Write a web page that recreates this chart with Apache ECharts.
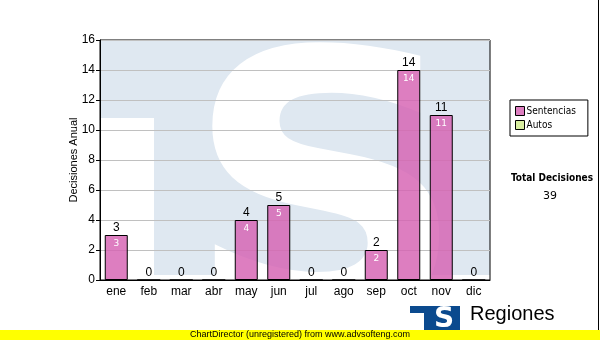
<!DOCTYPE html>
<html><head><meta charset="utf-8">
<script src="https://cdn.jsdelivr.net/npm/echarts@6/dist/echarts.min.js"></script>
<style>html,body{margin:0;padding:0;background:#fff}#c{width:600px;height:340px}</style>
</head><body><div id="c"></div>
<script>
const categories = ['ene','feb','mar','abr','may','jun','jul','ago','sep','oct','nov','dic'];
const sentencias = [3,0,0,0,4,5,0,0,2,14,11,0];
const autos = [];
const totalLabel = 'Total Decisiones';
const totalValue = '39';

const chart = echarts.init(document.getElementById('c'), null, {renderer:'canvas'});
const pink = 'rgba(214,98,178,0.82)';
chart.setOption({
  animation:false,
  textStyle:{fontFamily:'Liberation Sans, Arial, sans-serif'},
  graphic:[
    {type:'rect', z:-10, shape:{x:100,y:40,width:390,height:235}, style:{fill:'#dfe8f1'}},
    {type:'rect', z:-9, shape:{x:100,y:118,width:54,height:162}, style:{fill:'#ffffff'}},
    {type:'text', z:-8, x:326, y:221, scaleX:1.24, scaleY:1.165, style:{text:'S', fill:'#ffffff', font:'bold 318px "DejaVu Sans"', align:'center', verticalAlign:'middle'}},
    {type:'rect', shape:{x:0,y:330,width:600,height:10}, style:{fill:'#ffff00'}},
    {type:'text', x:300, y:330, style:{text:'ChartDirector (unregistered) from www.advsofteng.com', fill:'#000', font:'9px "Liberation Sans"', align:'center', verticalAlign:'top'}},
    {type:'rect', shape:{x:410,y:306,width:50,height:24}, style:{fill:'#0b4a8e'}},
    {type:'rect', shape:{x:410,y:313,width:14,height:17}, style:{fill:'#ffffff'}},
    {type:'text', x:444, y:320, style:{text:'S', fill:'#ffffff', font:'bold 28px "DejaVu Sans"', align:'center', verticalAlign:'middle'}},
    {type:'text', x:470, y:304, style:{text:'Regiones', fill:'#000', font:'20px "Liberation Sans"', verticalAlign:'top'}},
    {type:'line', shape:{x1:598.5,y1:0,x2:598.5,y2:330}, style:{stroke:'#000',lineWidth:1}},
    {type:'text', x:552, y:178, style:{text:totalLabel, fill:'#000', font:'bold 10px "DejaVu Sans Condensed"', align:'center', verticalAlign:'middle'}},
    {type:'text', x:550, y:196, style:{text:totalValue, fill:'#000', font:'11px "DejaVu Sans"', align:'center', verticalAlign:'middle'}}
  ],
  legend:{
    data:['Sentencias','Autos'], orient:'vertical', left:510, top:100,
    itemWidth:9, itemHeight:9, itemGap:4, icon:'rect',
    borderColor:'#000', borderWidth:1, padding:[6,12,6,5],
    itemStyle:{borderColor:'#000', borderWidth:1},
    textStyle:{fontFamily:'DejaVu Sans Condensed', fontSize:10, color:'#000', padding:[0,0,0,-3]}
  },
  grid:{left:100, right:110, top:40, bottom:60, show:true, borderColor:'#000', borderWidth:1, backgroundColor:'transparent'},
  xAxis:{type:'category', data:categories,
    axisLine:{lineStyle:{color:'#000'}}, axisTick:{alignWithLabel:true, length:4, lineStyle:{color:'#000'}},
    axisLabel:{color:'#000', fontSize:12, margin:6}},
  yAxis:{type:'value', min:0, max:16, interval:2, name:'Decisiones Anual', nameLocation:'middle', nameGap:21, nameMoveOverlap:false,
    nameTextStyle:{color:'#000', fontSize:11},
    axisLine:{show:true, lineStyle:{color:'#000'}}, axisTick:{show:true, length:4, lineStyle:{color:'#000'}},
    axisLabel:{color:'#000', fontSize:12, margin:5},
    splitLine:{lineStyle:{color:'#c0c0c0'}}},
  series:[
    {name:'Sentencias', type:'bar', data:sentencias, barWidth:23, barGap:'-100%',
      itemStyle:{color:pink, borderColor:'#000', borderWidth:1},
      label:{show:true, position:'top', distance:1, color:'#000', fontSize:12}},
    {name:'SentenciasIn', type:'bar', data:sentencias, barWidth:23, barGap:'-100%', silent:true,
      itemStyle:{color:'rgba(0,0,0,0)'},
      label:{show:true, position:'insideTop', distance:4, color:'#fff', fontSize:9, fontFamily:'DejaVu Sans',
        formatter:p=>p.value>0?String(p.value):''}},
    {name:'Autos', type:'bar', data:autos, barWidth:23, barGap:'-100%',
      itemStyle:{color:'#d8eea0', borderColor:'#000', borderWidth:1}}
  ]
});
</script></body></html>
